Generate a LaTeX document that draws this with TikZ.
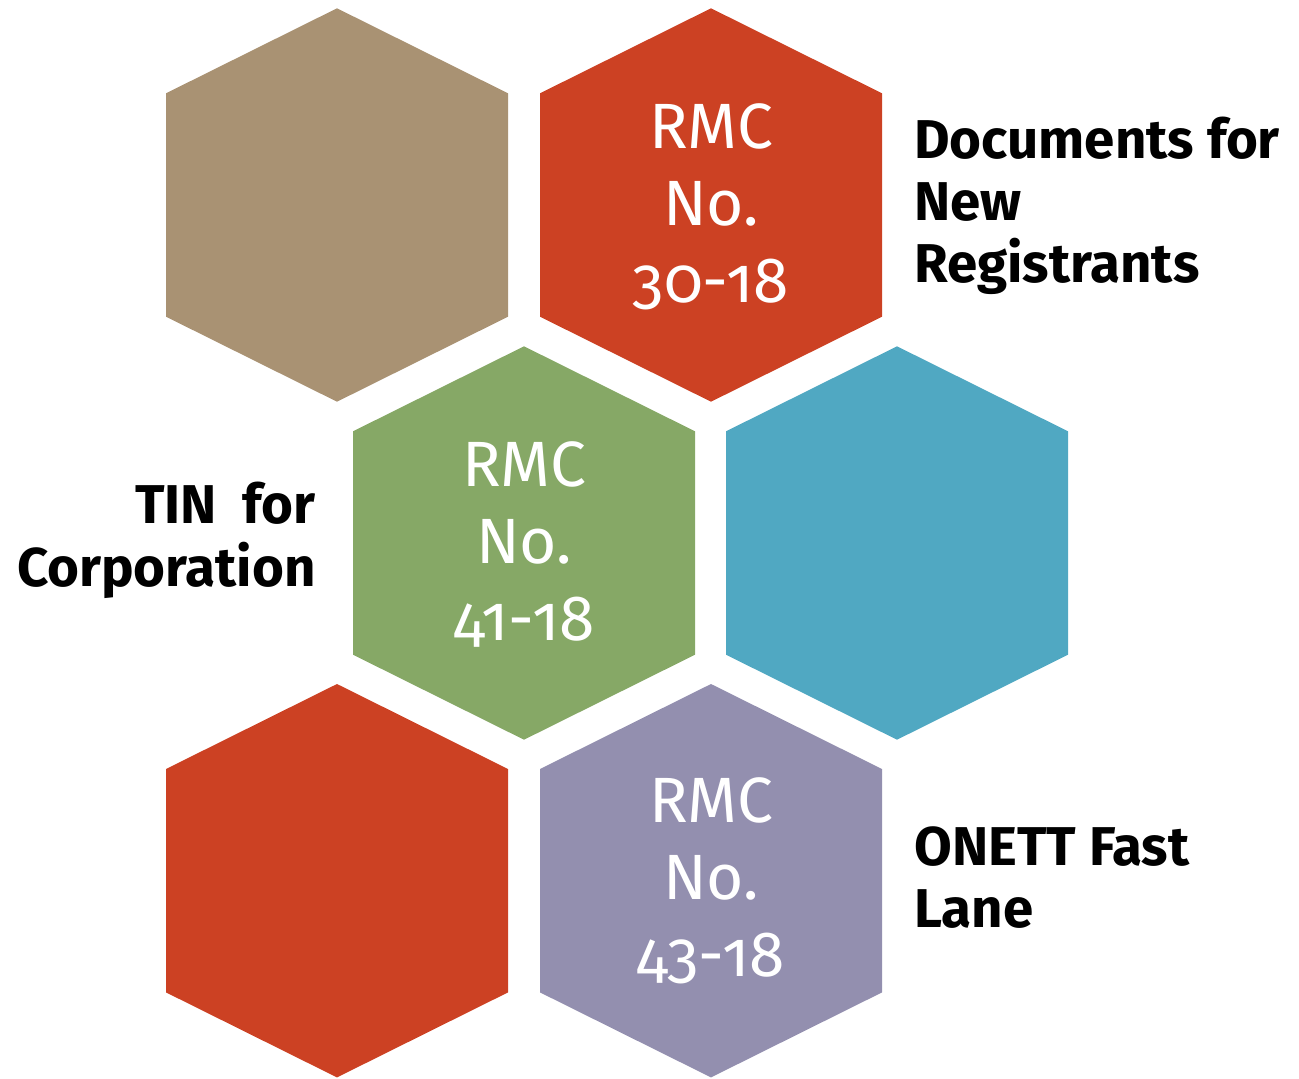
\documentclass[tikz,border=0pt]{standalone}
\usepackage{fontspec}
\setmainfont{Fira Sans}[Numbers=OldStyle]
\definecolor{hextan}{HTML}{A99273}
\definecolor{hexred}{HTML}{CC4123}
\definecolor{hexgreen}{HTML}{86A866}
\definecolor{hexblue}{HTML}{50A8C2}
\definecolor{hexpurple}{HTML}{938FAF}
\newcommand\hexcell[3]{%
  \fill[#3,shift={(#1,#2)}] (-171,-111.7) -- (0,-196.7) -- (171,-111.7)
    -- (171,111.7) -- (0,196.7) -- (-171,111.7) -- cycle;}
\begin{document}
\begin{tikzpicture}[x=0.75pt,y=-0.75pt,
  wt/.style={text=white,inner sep=0pt,anchor=base,font=\fontsize{48}{57.75}\selectfont},
  lbl/.style={text=black,inner sep=0pt,font=\fontsize{41}{46.5}\selectfont\bfseries}]
\useasboundingbox (0,0) rectangle (1299,1078);
% hexagons
\hexcell{337}{205}{hextan}
\hexcell{711}{205}{hexred}
\hexcell{524}{543}{hexgreen}
\hexcell{897}{543}{hexblue}
\hexcell{337}{880.7}{hexred}
\hexcell{711}{880.7}{hexpurple}
% texts in hexagons
\node[wt] (a1) at (711,148) {RMC};
\node[wt] (a2) at (711,225) {No.};
\node[wt] (a3) at (711,302) {30-18};
\node[wt] (b1) at (524,486) {RMC};
\node[wt] (b2) at (524,563) {No.};
\node[wt] (b3) at (524,640) {41-18};
\node[wt] (c1) at (711,822) {RMC};
\node[wt] (c2) at (711,899) {No.};
\node[wt] (c3) at (711,976) {43-18};
% labels
\node[lbl,anchor=base west] (d1) at (914,158) {Documents for};
\node[lbl,anchor=base west] (d2) at (914,220) {New};
\node[lbl,anchor=base west] (d3) at (914,282) {Registrants};
\node[lbl,anchor=base east] (e1) at (316,523) {TIN\ \ for};
\node[lbl,anchor=base east] (e2) at (316,586) {Corporation};
\node[lbl,anchor=base west] (f1) at (914,865) {ONETT Fast};
\node[lbl,anchor=base west] (f2) at (914,927) {Lane};
\end{tikzpicture}
\end{document}
